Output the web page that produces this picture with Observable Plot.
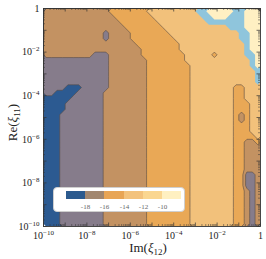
<!DOCTYPE html>
<html><head><meta charset="utf-8">
<script src="https://cdn.jsdelivr.net/npm/d3@7"></script>
<script src="https://cdn.jsdelivr.net/npm/@observablehq/plot@0.6"></script>
<style>
body{margin:0;background:#fff;}
#wrap{position:relative;width:266px;height:259px;}
#leg{position:absolute;left:53px;top:187px;width:132px;height:25px;background:#fff;border:1px solid #cfcfcf;border-radius:4px;box-sizing:border-box;}
#leg svg{position:absolute;left:12px;top:3px;background:transparent !important;}
#leg svg text{font-family:'Liberation Serif','DejaVu Serif',serif;font-size:7px;fill:#666;}
#leg svg line{display:none;}
</style></head><body><div id="wrap"></div>
<script>
// exponents (log10) of the axes
const xTicks = [-10, -8, -6, -4, -2, 0];
const yTicks = [-10, -8, -6, -4, -2, 0];
// band colours of the map, lowest to highest level
const bandColors = ["#2c5a91", "#867c8b", "#c39262", "#e9a856", "#f2c17b", "#8fc5dc", "#fff0c3"];
const bandThresholds = [-0.5, 0.5, 1.5, 2.5, 3.5, 4.5, 5.5];
const lineThresholds = [0.5, 1.5, 2.5, 3.5];
// colour bar
const legendLevels = [-18, -16, -14, -12, -10];
const legendColors = ["#2b5a8e", "#a2876f", "#e8a555", "#f3c27c", "#fad690", "#fff0c1"];
// level grid: rows top (Re=1) to bottom (Re=1e-10), columns Im=1e-10 .. 1, 0.25 decade cells
const rows = [
"2222222222223333333444444444556666655666",
"2222222222222333333344444444455666555666",
"2222222222222233333334444444445555555666",
"2222222222222223333333444444444444555666",
"2222222222212222333333344444444444445566",
"2222222222212222333333334444444444445566",
"2222222222222222233333333444444444444566",
"2222222222222222223333333444444444444566",
"2222222221112222223333333344444344444556",
"1111111111112222222333333344444444444456",
"1111111111112222222333333334444444444456",
"1111111111112222222333333334444444444445",
"1111111111112222222333333334444444444445",
"1111111111112222222333333334444444444445",
"1111000111112222222333333334444444433444",
"1100001111122222222333333334444444433444",
"0000011111122222222333333334444444433444",
"0000111111122222222333333334444444433344",
"0000111111122222222333333334444444433344",
"0001111111122222222333333334444444432344",
"0001111111122222222333333334444444432344",
"0001111111122222222333333334444444433344",
"0001111111122222222333333334444444433344",
"0001111111122222222333333334444444433334",
"0001111111122222222333333334444444433223",
"0001111111122222222333333334444444433222",
"0001111111122222222333333334444444433222",
"0001111111122222222333333334444444433222",
"0001111111122222222333333334444444433222",
"0001111111122222222333333334444444433222",
"0001111111122222222333333334444444433112",
"0001111111122222222333333334444444433112",
"0001111111122222222333333334444444433112",
"0001111111122222222333333334444444433212",
"0001111111122222222333333334444444433212",
"0001111111122222222333333334444444433212",
"0001111111122222222333333334444444433212",
"0001111111122222222333333334444444433212",
"0001111111122222222333333334444444433212",
"0001111111122222222333333334444444433212"
];

const grid = rows.flatMap(r => Array.from(r, Number));
const GW = rows[0].length, GH = rows.length;
const fmt = k => k === 0 ? "1" : "10^" + k;
const decades = d3.range(-10, 1);
const minors = d3.range(-10, 0).flatMap(k => d3.range(2, 10).map(m => k + Math.log10(m)));

const W = 266, H = 259, mL = 43, mR = 6, mT = 8, mB = 33;
const pw = W - mL - mR, ph = H - mT - mB;
const tickCol = "#333";

const plot = Plot.plot({
  width: W, height: H, marginLeft: mL, marginRight: mR, marginTop: mT, marginBottom: mB,
  style: {fontFamily: "'Liberation Serif','DejaVu Serif',serif", fontSize: "10px", color: "#222", background: "#fff"},
  x: {domain: [-10, 0], ticks: xTicks, tickFormat: fmt, tickSize: 0, tickPadding: 5, label: null},
  y: {domain: [-10, 0], ticks: yTicks, tickFormat: fmt, tickSize: 0, tickPadding: 4, label: null},
  color: {type: "threshold", domain: [0, 1, 2, 3, 4, 5], range: bandColors},
  marks: [
    Plot.contour(grid, {width: GW, height: GH, x1: -10, x2: 0, y1: 0, y2: -10,
      fill: Plot.identity, thresholds: bandThresholds, stroke: "none", clip: true}),
    Plot.contour(grid, {width: GW, height: GH, x1: -10, x2: 0, y1: 0, y2: -10,
      value: Plot.identity, thresholds: lineThresholds, fill: "none",
      stroke: "#5a4c44", strokeWidth: 0.75, strokeOpacity: 0.8, clip: true}),
    Plot.frame({stroke: "#333", strokeWidth: 0.9}),
    // inward ticks, all four sides
    Plot.tickX(decades, {x: d => d, insetTop: ph - 3.5, stroke: tickCol, strokeWidth: 0.7}),
    Plot.tickX(decades, {x: d => d, insetBottom: ph - 3.5, stroke: tickCol, strokeWidth: 0.7}),
    Plot.tickX(minors, {x: d => d, insetTop: ph - 2, stroke: tickCol, strokeWidth: 0.5}),
    Plot.tickX(minors, {x: d => d, insetBottom: ph - 2, stroke: tickCol, strokeWidth: 0.5}),
    Plot.tickY(decades, {y: d => d, insetRight: pw - 3.5, stroke: tickCol, strokeWidth: 0.7}),
    Plot.tickY(decades, {y: d => d, insetLeft: pw - 3.5, stroke: tickCol, strokeWidth: 0.7}),
    Plot.tickY(minors, {y: d => d, insetRight: pw - 2, stroke: tickCol, strokeWidth: 0.5}),
    Plot.tickY(minors, {y: d => d, insetLeft: pw - 2, stroke: tickCol, strokeWidth: 0.5}),
    Plot.text(["Im(ξ12)"], {frameAnchor: "bottom", lineAnchor: "middle", textAnchor: "middle", dy: 21, dx: -4, fontSize: 13, fill: "#222"}),
    Plot.text(["Re(ξ11)"], {frameAnchor: "left", lineAnchor: "middle", textAnchor: "middle", dx: -31, dy: 5, rotate: -90, fontSize: 13, fill: "#222"})
  ]
});

// superscript exponents, subscripts and italic xi
plot.querySelectorAll("text").forEach(t => {
  const s = t.textContent;
  let m = s.match(/^(Im|Re)\(ξ(\d\d)\)$/);
  if (m) {
    t.innerHTML = `${m[1]}(<tspan font-style="italic">ξ</tspan><tspan font-size="9" dy="3">${m[2]}</tspan><tspan dy="-3">)</tspan>`;
    return;
  }
  m = s.match(/^10\^(-?\d+)$/);
  if (m) {
    t.innerHTML = `10<tspan font-size="7" dy="-4">${m[1].replace("-", "\u2212")}</tspan>`;
  }
});

const wrap = document.getElementById("wrap");
wrap.appendChild(plot);

const legBox = document.createElement("div");
legBox.id = "leg";
const leg = Plot.legend({
  color: {type: "threshold", domain: legendLevels, range: legendColors},
  width: 115, height: 20, marginTop: 0, marginBottom: 12, marginLeft: 0, marginRight: 0,
  tickSize: 2, label: null
});
legBox.appendChild(leg);
wrap.appendChild(legBox);
</script></body></html>
